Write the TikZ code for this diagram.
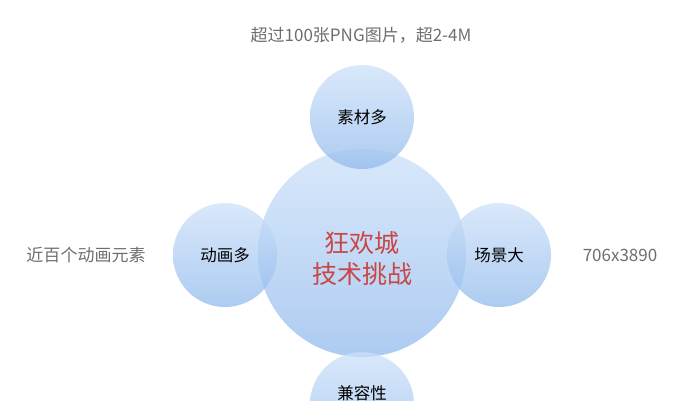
\documentclass[tikz,border=0pt]{standalone}
\usepackage{fontspec}
\newfontfamily\cjk{Noto Sans CJK SC}
\definecolor{bubtop}{RGB}{205,225,249}
\definecolor{bubbot}{RGB}{145,186,236}
\definecolor{note}{RGB}{110,110,110}
\definecolor{title}{RGB}{200,70,70}
\tikzset{
  bubble/.style={circle, minimum size=#1, inner sep=0pt, top color=bubtop, bottom color=bubbot,
    fill opacity=.75, text opacity=1, font=\cjk\fontsize{16.5}{18}\selectfont},
  note/.style={text=note, font=\cjk\fontsize{17}{19}\selectfont}
}
\begin{document}
\begin{tikzpicture}[x=1pt, y=-1pt]
  \useasboundingbox (0,0) rectangle (696,400);
  \node[bubble=208pt] (hub) at (362,253) {};
  \node[bubble=104pt] (top) at (362,117) {素材多};
  \node[bubble=104pt] (lft) at (225,255) {动画多};
  \node[bubble=104pt] (rgt) at (499,255) {场景大};
  \node[bubble=104pt, anchor=north] (bot) at (362,352) {};
  \node[font=\cjk\fontsize{16.5}{18}\selectfont] (botlabel) at (362,393) {兼容性};
  \node[text=title, font=\cjk\fontsize{25}{31}\selectfont, align=center] (hubtext) at (362,258) {狂欢城\\技术挑战};
  % notes
  \node[note] (topnote) at (361,35) {超过100张PNG图片，超2-4M};
  \node[note] (lftnote) at (86,255) {近百个动画元素};
  \node[note] (rgtnote) at (620,255) {706x3890};
\end{tikzpicture}
\end{document}
